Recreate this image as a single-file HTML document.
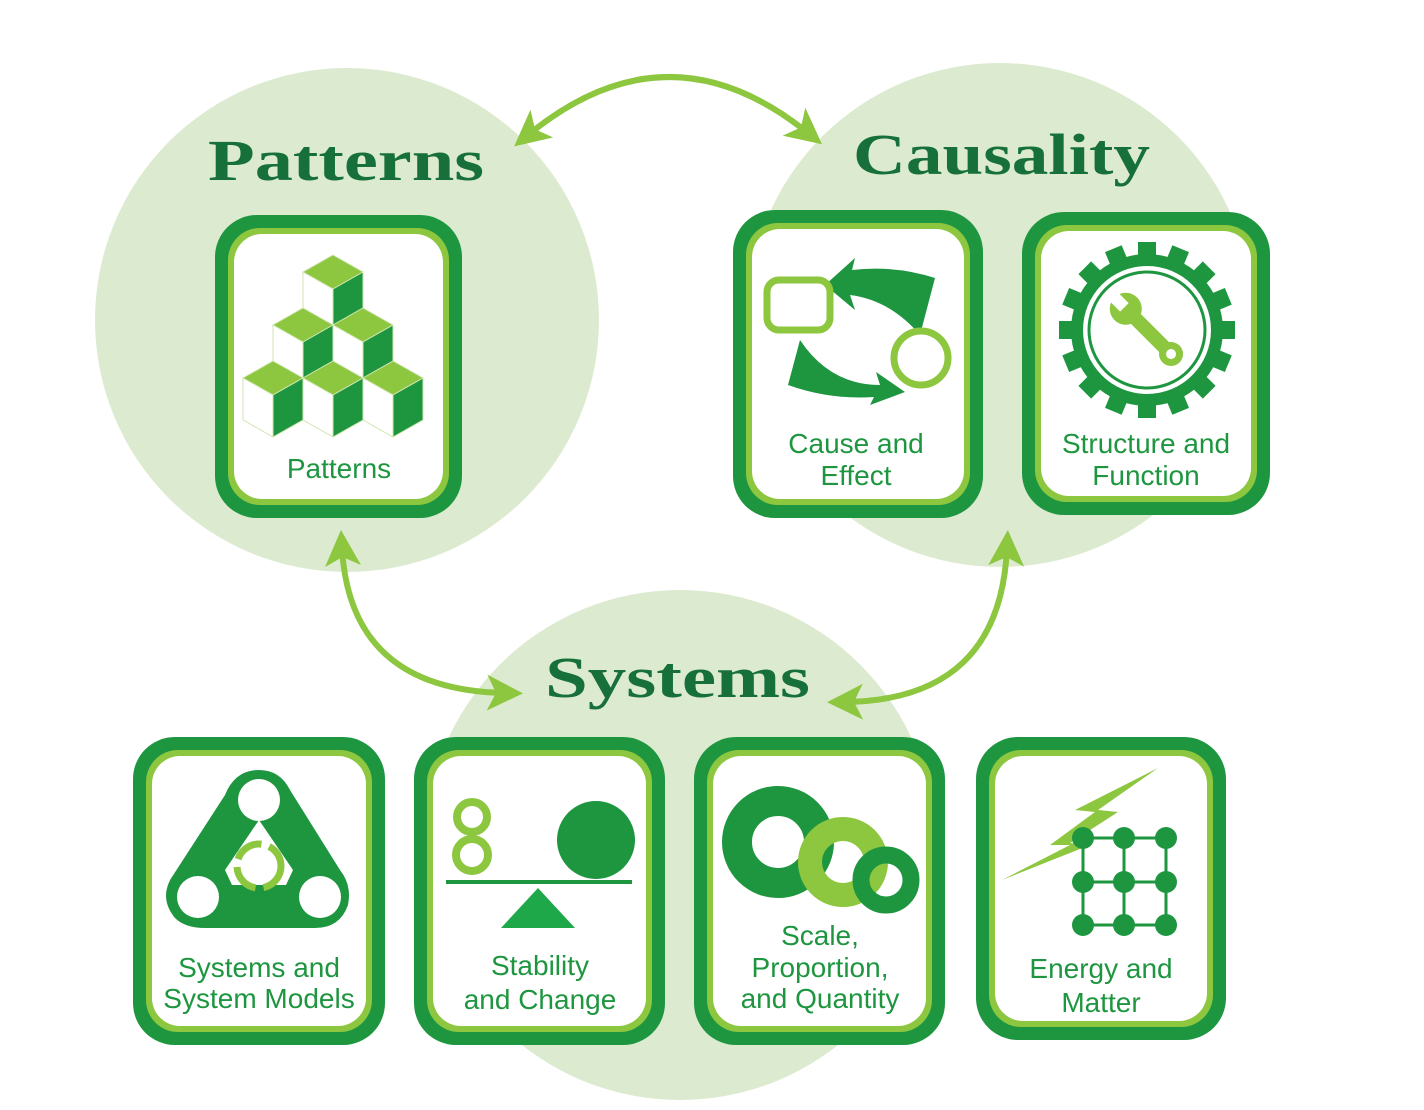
<!DOCTYPE html>
<html><head><meta charset="utf-8"><style>
html,body{margin:0;padding:0;background:#fff;}
svg{display:block;}
.t{font-family:"Liberation Serif",serif;font-weight:bold;fill:#17703a;}
.l{font-family:"Liberation Sans",sans-serif;fill:#1e9640;font-size:28px;text-anchor:middle;}
</style></head><body>
<svg width="1424" height="1110" viewBox="0 0 1424 1110" xmlns="http://www.w3.org/2000/svg">
<defs>
<marker id="ah" markerWidth="6" markerHeight="6" refX="3" refY="3" orient="auto-start-reverse" markerUnits="strokeWidth">
<path d="M0,0 L6,3 L0,6 L1.5,3 Z" fill="#8dc63f"/></marker>
</defs>
<circle cx="347" cy="320" r="252" fill="#dcebcf"/>
<circle cx="1000" cy="315" r="252" fill="#dcebcf"/>
<circle cx="680" cy="845" r="255" fill="#dcebcf"/>

<path d="M528 135 Q668 20 808 133" fill="none" stroke="#8dc63f" stroke-width="6" marker-start="url(#ah)" marker-end="url(#ah)"/>
<path d="M342 548 Q350 690 505 693" fill="none" stroke="#8dc63f" stroke-width="6" marker-start="url(#ah)" marker-end="url(#ah)"/>
<path d="M1007 548 Q1000 700 845 702" fill="none" stroke="#8dc63f" stroke-width="6" marker-start="url(#ah)" marker-end="url(#ah)"/>

<text class="t" x="208" y="180" font-size="58" textLength="276" lengthAdjust="spacingAndGlyphs">Patterns</text>
<text class="t" x="853" y="174" font-size="58" textLength="297" lengthAdjust="spacingAndGlyphs">Causality</text>
<text class="t" x="545" y="697" font-size="58" textLength="265" lengthAdjust="spacingAndGlyphs">Systems</text>

<g id="tiles">
<g><rect x="215" y="215" width="247" height="303" rx="42" fill="#1e9640"/><rect x="228" y="228" width="221" height="277" rx="32" fill="#8dc63f"/><rect x="234" y="234" width="209" height="265" rx="28" fill="#fff"/></g>
<g><rect x="733" y="210" width="250" height="308" rx="42" fill="#1e9640"/><rect x="746" y="223" width="224" height="282" rx="32" fill="#8dc63f"/><rect x="752" y="229" width="212" height="270" rx="28" fill="#fff"/></g>
<g><rect x="1022" y="212" width="248" height="303" rx="42" fill="#1e9640"/><rect x="1035" y="225" width="222" height="277" rx="32" fill="#8dc63f"/><rect x="1041" y="231" width="210" height="265" rx="28" fill="#fff"/></g>
<g><rect x="133" y="737" width="252" height="308" rx="42" fill="#1e9640"/><rect x="146" y="750" width="226" height="282" rx="32" fill="#8dc63f"/><rect x="152" y="756" width="214" height="270" rx="28" fill="#fff"/></g>
<g><rect x="414" y="737" width="251" height="308" rx="42" fill="#1e9640"/><rect x="427" y="750" width="225" height="282" rx="32" fill="#8dc63f"/><rect x="433" y="756" width="213" height="270" rx="28" fill="#fff"/></g>
<g><rect x="694" y="737" width="251" height="308" rx="42" fill="#1e9640"/><rect x="707" y="750" width="225" height="282" rx="32" fill="#8dc63f"/><rect x="713" y="756" width="213" height="270" rx="28" fill="#fff"/></g>
<g><rect x="976" y="737" width="250" height="303" rx="42" fill="#1e9640"/><rect x="989" y="750" width="224" height="277" rx="32" fill="#8dc63f"/><rect x="995" y="756" width="212" height="265" rx="28" fill="#fff"/></g>
</g>

<!-- cubes -->
<g stroke="#cfe6b0" stroke-width="1">
<g><path d="M333 255 L363 272 L333 289 L303 272Z" fill="#8dc63f"/><path d="M303 272 L333 289 L333 331 L303 314Z" fill="#fff"/><path d="M363 272 L333 289 L333 331 L363 314Z" fill="#1e9640"/></g>
<g transform="translate(-30,53)"><path d="M333 255 L363 272 L333 289 L303 272Z" fill="#8dc63f"/><path d="M303 272 L333 289 L333 331 L303 314Z" fill="#fff"/><path d="M363 272 L333 289 L333 331 L363 314Z" fill="#1e9640"/></g>
<g transform="translate(30,53)"><path d="M333 255 L363 272 L333 289 L303 272Z" fill="#8dc63f"/><path d="M303 272 L333 289 L333 331 L303 314Z" fill="#fff"/><path d="M363 272 L333 289 L333 331 L363 314Z" fill="#1e9640"/></g>
<g transform="translate(-60,106)"><path d="M333 255 L363 272 L333 289 L303 272Z" fill="#8dc63f"/><path d="M303 272 L333 289 L333 331 L303 314Z" fill="#fff"/><path d="M363 272 L333 289 L333 331 L363 314Z" fill="#1e9640"/></g>
<g transform="translate(0,106)"><path d="M333 255 L363 272 L333 289 L303 272Z" fill="#8dc63f"/><path d="M303 272 L333 289 L333 331 L303 314Z" fill="#fff"/><path d="M363 272 L333 289 L333 331 L363 314Z" fill="#1e9640"/></g>
<g transform="translate(60,106)"><path d="M333 255 L363 272 L333 289 L303 272Z" fill="#8dc63f"/><path d="M303 272 L333 289 L333 331 L303 314Z" fill="#fff"/><path d="M363 272 L333 289 L333 331 L363 314Z" fill="#1e9640"/></g>
</g>

<!-- cause and effect -->
<path d="M825 285 L855 258 L852 270 Q895 265 935 278 L920 335 Q890 300 850 295 L855 310 Z" fill="#1e9640"/>
<path d="M800 340 Q830 385 880 385 L876 372 L905 392 L870 405 L874 397 Q830 400 788 385 Z" fill="#1e9640"/>
<rect x="767" y="280" width="63" height="50" rx="12" fill="#fff" stroke="#8dc63f" stroke-width="7"/>
<circle cx="921" cy="358" r="27" fill="#fff" stroke="#8dc63f" stroke-width="7"/>

<!-- gear -->
<g transform="translate(1147,330)">
<circle r="76" fill="#1e9640"/>
<g fill="#1e9640">
<rect x="-9" y="-88" width="18" height="20"/><rect x="-9" y="-88" width="18" height="20" transform="rotate(22.5)"/><rect x="-9" y="-88" width="18" height="20" transform="rotate(45)"/><rect x="-9" y="-88" width="18" height="20" transform="rotate(67.5)"/><rect x="-9" y="-88" width="18" height="20" transform="rotate(90)"/><rect x="-9" y="-88" width="18" height="20" transform="rotate(112.5)"/><rect x="-9" y="-88" width="18" height="20" transform="rotate(135)"/><rect x="-9" y="-88" width="18" height="20" transform="rotate(157.5)"/><rect x="-9" y="-88" width="18" height="20" transform="rotate(180)"/><rect x="-9" y="-88" width="18" height="20" transform="rotate(202.5)"/><rect x="-9" y="-88" width="18" height="20" transform="rotate(225)"/><rect x="-9" y="-88" width="18" height="20" transform="rotate(247.5)"/><rect x="-9" y="-88" width="18" height="20" transform="rotate(270)"/><rect x="-9" y="-88" width="18" height="20" transform="rotate(292.5)"/><rect x="-9" y="-88" width="18" height="20" transform="rotate(315)"/><rect x="-9" y="-88" width="18" height="20" transform="rotate(337.5)"/>
</g>
<circle r="64" fill="#fff"/>
<circle r="58" fill="none" stroke="#1e9640" stroke-width="3"/>
<g transform="rotate(-45)">
<rect x="-7" y="-28" width="14" height="58" fill="#8dc63f"/>
<circle cx="0" cy="-30" r="16" fill="#8dc63f"/>
<rect x="-6" y="-50" width="12" height="18" fill="#fff"/>
<circle cx="0" cy="34" r="12" fill="#8dc63f"/>
<circle cx="0" cy="34" r="5" fill="#fff"/>
</g>
</g>

<!-- systems models -->
<path d="M259 770 Q235 770 225 795 L170 880 Q160 900 175 918 Q185 928 205 928 L315 928 Q340 928 348 905 Q352 885 340 870 L290 790 Q280 770 259 770Z" fill="#1e9640"/>
<path d="M259 820 L225 870 L232 885 L286 885 L293 870 Z" fill="#fff"/>
<circle cx="259" cy="800" r="21" fill="#fff"/>
<circle cx="198" cy="897" r="21" fill="#fff"/>
<circle cx="320" cy="897" r="21" fill="#fff"/>
<circle cx="259" cy="866" r="22" fill="none" stroke="#8dc63f" stroke-width="7" stroke-dasharray="30 8"/>

<!-- stability -->
<circle cx="472" cy="817" r="15" fill="none" stroke="#8dc63f" stroke-width="8"/>
<circle cx="472" cy="855" r="16" fill="none" stroke="#8dc63f" stroke-width="8"/>
<circle cx="596" cy="840" r="39" fill="#1e9640"/>
<rect x="446" y="880" width="186" height="4" fill="#1e9640"/>
<path d="M538 888 L575 928 L501 928Z" fill="#1ea84a"/>

<!-- scale -->
<circle cx="778" cy="842" r="41" fill="none" stroke="#1e9640" stroke-width="30"/>
<circle cx="843" cy="862" r="33" fill="none" stroke="#8dc63f" stroke-width="24"/>
<circle cx="886" cy="880" r="25" fill="none" stroke="#1e9640" stroke-width="17"/>

<!-- energy -->
<path d="M1158 768 L1075 810 L1095 812 L1050 845 L1070 845 L1002 880 L1090 845 L1070 843 L1118 812 L1098 810 Z" fill="#8dc63f"/>
<g stroke="#1e9640" stroke-width="3">
<line x1="1083" y1="838" x2="1166" y2="838"/><line x1="1083" y1="882" x2="1166" y2="882"/><line x1="1083" y1="925" x2="1166" y2="925"/>
<line x1="1083" y1="838" x2="1083" y2="925"/><line x1="1124" y1="838" x2="1124" y2="925"/><line x1="1166" y1="838" x2="1166" y2="925"/>
</g>
<g fill="#1e9640">
<circle cx="1083" cy="838" r="11"/><circle cx="1124" cy="838" r="11"/><circle cx="1166" cy="838" r="11"/>
<circle cx="1083" cy="882" r="11"/><circle cx="1124" cy="882" r="11"/><circle cx="1166" cy="882" r="11"/>
<circle cx="1083" cy="925" r="11"/><circle cx="1124" cy="925" r="11"/><circle cx="1166" cy="925" r="11"/>
</g>

<!-- labels -->
<text class="l" x="339" y="478">Patterns</text>
<text class="l" x="856" y="453">Cause and</text><text class="l" x="856" y="485">Effect</text>
<text class="l" x="1146" y="453">Structure and</text><text class="l" x="1146" y="485">Function</text>
<text class="l" x="259" y="977" font-size="26">Systems and</text><text class="l" x="259" y="1008" font-size="26">System Models</text>
<text class="l" x="540" y="975">Stability</text><text class="l" x="540" y="1009">and Change</text>
<text class="l" x="820" y="945">Scale,</text><text class="l" x="820" y="977">Proportion,</text><text class="l" x="820" y="1008">and Quantity</text>
<text class="l" x="1101" y="978">Energy and</text><text class="l" x="1101" y="1012">Matter</text>
</svg>
</body></html>
